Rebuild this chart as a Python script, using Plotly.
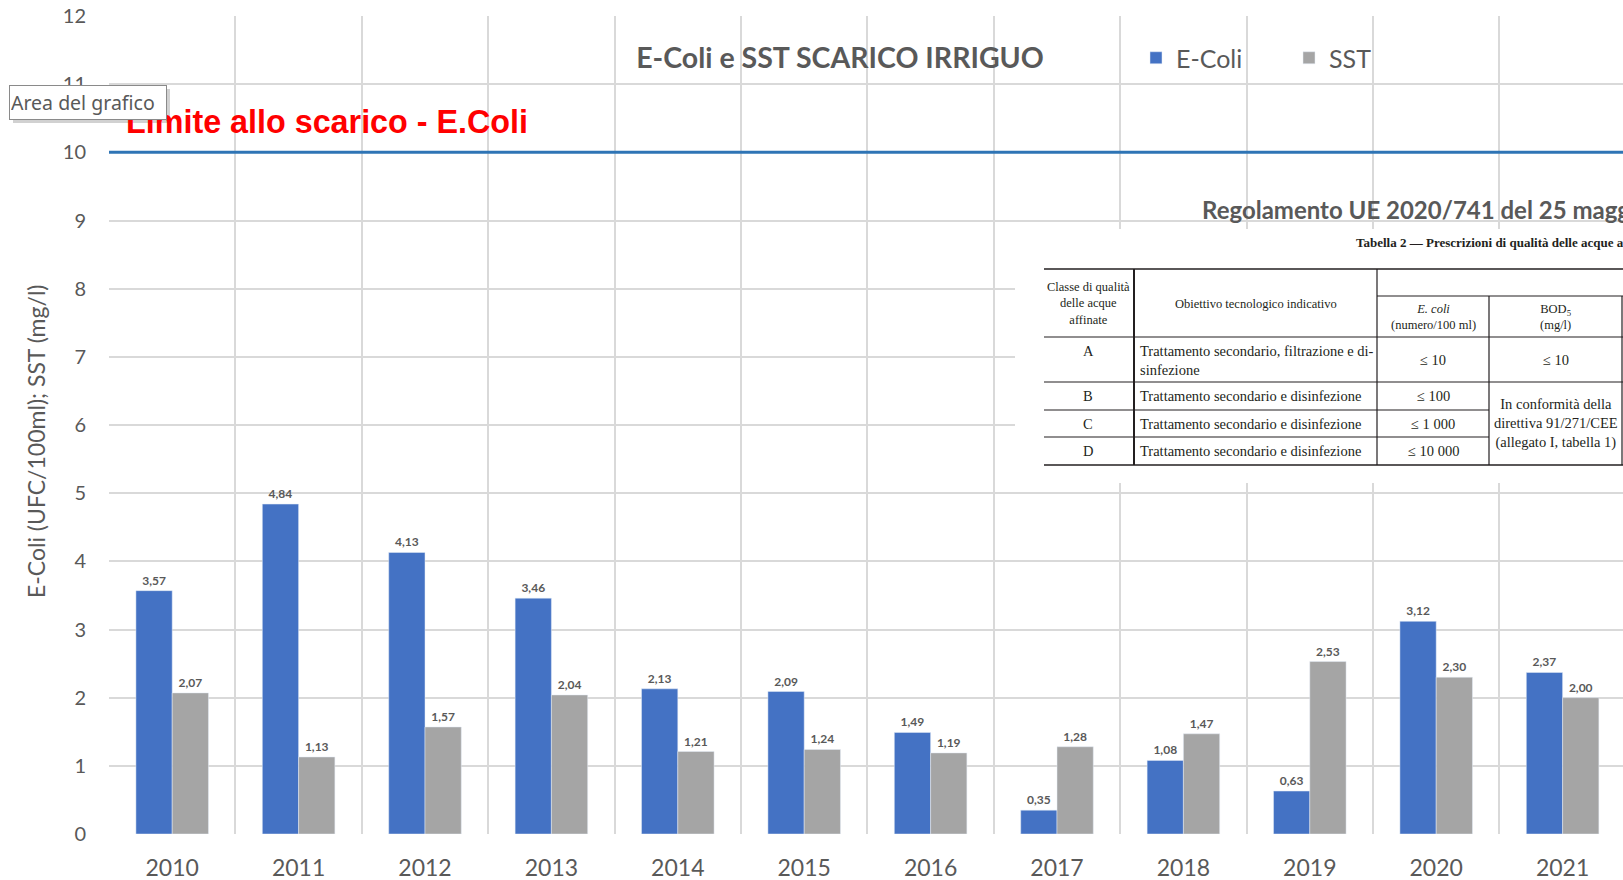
import plotly.graph_objects as go

# Data
years = ["2010", "2011", "2012", "2013", "2014", "2015",
         "2016", "2017", "2018", "2019", "2020", "2021"]
ecoli = [3.57, 4.84, 4.13, 3.46, 2.13, 2.09, 1.49, 0.35, 1.08, 0.63, 3.12, 2.37]
sst = [2.07, 1.13, 1.57, 2.04, 1.21, 1.24, 1.19, 1.28, 1.47, 2.53, 2.30, 2.00]
ecoli_limit = 10

# Regulation table (Reg. UE 2020/741, tabella 2)
table_classes = ["A", "B", "C", "D"]
table_objectives = [
    "Trattamento secondario, filtrazione e di-<br>sinfezione",
    "Trattamento secondario e disinfezione",
    "Trattamento secondario e disinfezione",
    "Trattamento secondario e disinfezione",
]
table_ecoli = ["≤ 10", "≤ 100", "≤ 1 000", "≤ 10 000"]
table_bod_a = "≤ 10"
table_bod_other = "In conformità della<br>direttiva 91/271/CEE<br>(allegato I, tabella 1)"

# Page geometry (px)
W, H = 1623, 880
PLOT_L, PLOT_R, PLOT_T, PLOT_B = 109, 1623, 16, 834

BLUE = "#4472C4"
GREY = "#A5A5A5"
TXT = "#595959"
GRID = "#D9D9D9"
INK = "#231F20"
SERIF = "Liberation Serif"


def px_x(px):
    return (px - PLOT_L) / (PLOT_R - PLOT_L)


def px_y(py):
    return (PLOT_B - py) / (PLOT_B - PLOT_T)


fig = go.Figure()

fig.add_trace(go.Bar(
    x=years, y=ecoli, name="E-Coli", marker_color=BLUE,
    texttemplate="%{y:.2f}", textposition="outside", cliponaxis=False,
    textfont=dict(family="Lato", size=12, color=TXT, weight=700),
))
fig.add_trace(go.Bar(
    x=years, y=sst, name="SST", marker_color=GREY,
    texttemplate="%{y:.2f}", textposition="outside", cliponaxis=False,
    textfont=dict(family="Lato", size=12, color=TXT, weight=700),
))

shapes = []
annotations = []

# limit line
shapes.append(dict(type="line", xref="paper", x0=0, x1=1, yref="y", y0=ecoli_limit, y1=ecoli_limit,
                   line=dict(color="#2E74B5", width=3)))

# white patch of the pasted table image
shapes.append(dict(type="rect", xref="paper", yref="paper",
                   x0=px_x(1015), x1=px_x(1630), y0=px_y(483), y1=px_y(229),
                   fillcolor="white", line=dict(width=0), layer="above"))

# table lines
col_x = [1044, 1134, 1377, 1489, 1622]
row_y = [337, 382, 410, 437, 465]
top_y, sub_y = 269, 296


def hline(y, xa, xb, w=1.2):
    shapes.append(dict(type="line", xref="paper", yref="paper",
                       x0=px_x(xa), x1=px_x(xb), y0=px_y(y), y1=px_y(y),
                       line=dict(color=INK, width=w), layer="above"))


def vline(x, ya, yb, w=1.2):
    shapes.append(dict(type="line", xref="paper", yref="paper",
                       x0=px_x(x), x1=px_x(x), y0=px_y(ya), y1=px_y(yb),
                       line=dict(color=INK, width=w), layer="above"))


hline(top_y, col_x[0], 1630, 1.6)
hline(sub_y, col_x[2], 1630)
hline(row_y[0], col_x[0], 1630)
hline(row_y[1], col_x[0], 1630)
hline(row_y[2], col_x[0], col_x[3])
hline(row_y[3], col_x[0], col_x[3])
hline(row_y[4], col_x[0], 1630, 1.6)
vline(col_x[1], top_y, row_y[4], 2)
vline(col_x[2], top_y, row_y[4])
vline(col_x[3], sub_y, row_y[4])
vline(col_x[4], sub_y, row_y[4])

# tooltip shadow
shapes.append(dict(type="rect", xref="paper", yref="paper",
                   x0=px_x(13), x1=px_x(170), y0=px_y(123), y1=px_y(89),
                   fillcolor="rgba(0,0,0,0.18)", line=dict(width=0), layer="above"))


def note(text, x, y, size, xanchor="center", yanchor="middle", align="center", color=INK,
         family=SERIF, weight=400, angle=0):
    annotations.append(dict(text=text, x=px_x(x), y=px_y(y), xref="paper", yref="paper",
                            xanchor=xanchor, yanchor=yanchor, align=align, showarrow=False,
                            textangle=angle,
                            font=dict(family=family, size=size, color=color, weight=weight)))


# table header
note("Classe di qualità<br>delle acque<br>affinate", 1088, 304, 12.5)
note("Obiettivo tecnologico indicativo", 1256, 304, 12.5)
note("<i>E. coli</i><br>(numero/100 ml)", 1433, 317, 12.5)
note("BOD<sub>5</sub><br>(mg/l)", 1556, 317, 12.5)

# table rows
for i, cls in enumerate(table_classes):
    top, bot = row_y[i], row_y[i + 1]
    note(cls, 1088, top + 4, 14.5, yanchor="top")
    note(table_objectives[i], 1138, top + 4, 14.5, xanchor="left", yanchor="top", align="left")
    note(table_ecoli[i], 1433, (top + bot) / 2, 14.5)
note(table_bod_a, 1556, (row_y[0] + row_y[1]) / 2, 14.5)
note(table_bod_other, 1556, (row_y[1] + row_y[4]) / 2, 14.5)

note("Tabella 2 — Prescrizioni di qualità delle acque affinate per l'irrigazione agricola",
     1354, 242, 13, xanchor="left", weight=700)
note("Regolamento UE 2020/741 del 25 maggio 2020", 1200, 209, 24,
     xanchor="left", color=TXT, family="Lato", weight=700)

# y axis title
note("E-Coli (UFC/100ml); SST (mg/l)", 36, 442, 23, color=TXT, family="Lato", angle=-90)

# red label of the limit
note("Limite allo scarico - E.Coli", 124, 122, 32.3, xanchor="left", color="#FF0000",
     family="Liberation Sans", weight=700)

# hover tooltip "Area del grafico"
annotations.append(dict(text="Area del grafico", x=px_x(9), y=px_y(85), xref="paper", yref="paper",
                        xanchor="left", yanchor="top", showarrow=False, align="left",
                        width=154, height=31, borderpad=1, bgcolor="white",
                        bordercolor="#8A8A8A", borderwidth=1,
                        font=dict(family="Noto Sans", size=19.5, color=TXT)))

fig.update_layout(
    width=W, height=H,
    margin=dict(l=PLOT_L, r=W - PLOT_R, t=PLOT_T, b=H - PLOT_B, pad=0),
    paper_bgcolor="white", plot_bgcolor="white",
    separators=",.",
    barmode="group", bargap=0.426, bargroupgap=0,
    title=dict(text="E-Coli e SST SCARICO IRRIGUO", x=840 / W, xanchor="center",
               y=1 - 58 / H, yanchor="middle",
               font=dict(family="Lato", size=28.5, color=TXT, weight=700)),
    font=dict(family="Lato", color=TXT),
    legend=dict(orientation="h", x=px_x(1136), xanchor="left", y=px_y(58), yanchor="middle",
                font=dict(family="Lato", size=25, color=TXT),
                entrywidth=108, bgcolor="rgba(0,0,0,0)"),
    xaxis=dict(type="category", range=[-0.5, -0.5 + (PLOT_R - PLOT_L) / 126.4],
               tickson="boundaries", showgrid=True, gridcolor=GRID, gridwidth=1.5,
               ticks="", showline=False, zeroline=False,
               tickfont=dict(family="Lato", size=23, color=TXT), ticklabelstandoff=18),
    yaxis=dict(range=[0, 12], dtick=1, showgrid=True, gridcolor=GRID, gridwidth=1.5,
               zeroline=False, showline=False, ticks="",
               tickfont=dict(family="Lato", size=20, color=TXT), ticklabelstandoff=22),
    shapes=shapes,
    annotations=annotations,
)

fig.write_html("out.html", config={"displayModeBar": False},
               post_script="document.body.style.margin='0';")
